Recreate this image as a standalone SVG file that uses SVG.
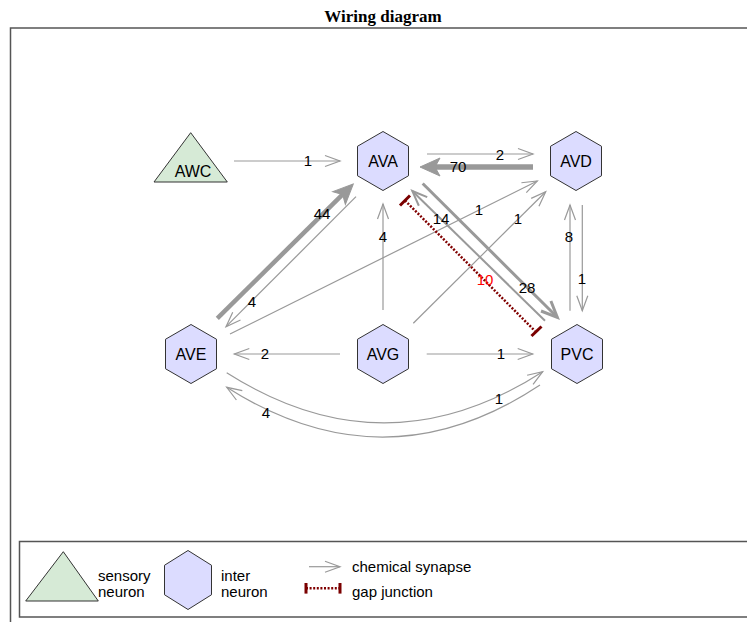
<svg xmlns="http://www.w3.org/2000/svg" width="747" height="622" viewBox="0 0 747 622">
  <style>
    .title { font-family: "Liberation Serif", "Times New Roman", serif; font-size: 17px; font-weight: bold; fill: #000; }
    .frame { fill: none; stroke: #555; stroke-width: 1.5; }
    .inter { fill: #dcdcff; stroke: #333; stroke-width: 1; }
    .sensory { fill: #d6ead6; stroke: #333; stroke-width: 1; }
    .nlabel { font-family: "Liberation Sans", Arial, sans-serif; font-size: 16px; fill: #000; text-anchor: middle; }
    .elabel { font-family: "Liberation Sans", Arial, sans-serif; font-size: 15px; fill: #000; text-anchor: middle; }
    .glabel { font-family: "Liberation Sans", Arial, sans-serif; font-size: 15px; fill: #ff0000; text-anchor: middle; }
    .legtext { font-family: "Liberation Sans", Arial, sans-serif; font-size: 15px; fill: #000; }
    .chem { fill: none; stroke: #999; stroke-width: 1.2; marker-end: url(#arrow); }
    .chem2 { fill: none; stroke: #999; stroke-width: 2; marker-end: url(#arrow2); }
    .chem3 { fill: none; stroke: #999; stroke-width: 3; marker-end: url(#arrow3); }
    .chemH { fill: none; stroke: #999; marker-end: url(#arrowH); }
    .gap { fill: none; stroke: #800000; stroke-width: 2.5; stroke-dasharray: 2 1.6; }
    .gapbar { fill: none; stroke: #7a0000; stroke-width: 3; }
  </style>
  <defs>
    <marker id="arrow" markerUnits="userSpaceOnUse" orient="auto" refX="0" refY="0" markerWidth="1" markerHeight="1" style="overflow:visible">
      <path d="M-15,-5.5 L0,0 L-15,5.5" fill="none" stroke="#999" stroke-width="1.2"/>
    </marker>
    <marker id="arrow2" markerUnits="userSpaceOnUse" orient="auto" refX="0" refY="0" markerWidth="1" markerHeight="1" style="overflow:visible">
      <path d="M-15,-6 L0,0 L-15,6" fill="none" stroke="#999" stroke-width="2"/>
    </marker>
    <marker id="arrow3" markerUnits="userSpaceOnUse" orient="auto" refX="0" refY="0" markerWidth="1" markerHeight="1" style="overflow:visible">
      <path d="M-16,-7 L0,0 L-16,7" fill="none" stroke="#999" stroke-width="3"/>
    </marker>
    <!-- heavy arrowhead: tip sits 6 units past the end of the shaft -->
    <marker id="arrowH" markerUnits="userSpaceOnUse" orient="auto" refX="0" refY="0" markerWidth="1" markerHeight="1" style="overflow:visible">
      <path d="M6,0 L-14,-9 L-9,0 L-14,9 Z" fill="#999" stroke="#999" stroke-width="1"/>
    </marker>
  </defs>

  <rect width="747" height="622" fill="#fff"/>
  <text class="title" x="383" y="22" text-anchor="middle">Wiring diagram</text>
  <rect class="frame" x="10.5" y="28" width="800" height="700"/>

  <g id="connectors">
    <path class="chem" d="M234,161 L340,161"/>
    <path class="chem" d="M427,154 L533,154"/>
    <path class="chemH" stroke-width="5.5" d="M533,167 L426,167"/>
    <path class="chemH" stroke-width="4.5" d="M217.3,318.3 L349,188.2"/>
    <path class="chem" d="M356,196.7 L226,326.7"/>
    <path class="chem" d="M230,334 L537.3,181"/>
    <path class="chem" d="M413.3,323.3 L545.7,191.7"/>
    <path class="chem" d="M383,310 L383,204"/>
    <path class="chem2" d="M545,320.7 L412.3,191"/>
    <path class="chem3" d="M422.7,183.5 L557.3,317.3"/>
    <path class="chem" d="M582.3,205 L582.3,310.7"/>
    <path class="chem" stroke-width="1.5" d="M570,310.7 L570,205"/>
    <path class="chem" d="M340,354 L234.3,354"/>
    <path class="chem" d="M426.7,354 L532.7,354"/>
    <path class="chem" d="M226.7,372.7 Q385,473.5 542.7,371.7"/>
    <path class="chem" d="M540,385 Q385,488 226.7,387.3"/>
    <g id="gap-AVA-PVC">
      <path class="gap" d="M405,200.5 L535,331"/>
      <path class="gapbar" d="M400,205.5 L410,195.5"/>
      <path class="gapbar" d="M531.5,336 L541.5,326.5"/>
    </g>
    <text class="elabel" x="308" y="166">1</text>
    <text class="elabel" x="500" y="160">2</text>
    <text class="elabel" x="458" y="172">70</text>
    <text class="elabel" x="322" y="219">44</text>
    <text class="elabel" x="252" y="307">4</text>
    <text class="elabel" x="479" y="215">1</text>
    <text class="elabel" x="518" y="224">1</text>
    <text class="elabel" x="383" y="242">4</text>
    <text class="elabel" x="441" y="224">14</text>
    <text class="elabel" x="527" y="293">28</text>
    <text class="glabel" x="485" y="285">10</text>
    <text class="elabel" x="582" y="284">1</text>
    <text class="elabel" x="569" y="242">8</text>
    <text class="elabel" x="265" y="359">2</text>
    <text class="elabel" x="501" y="359">1</text>
    <text class="elabel" x="499" y="404">1</text>
    <text class="elabel" x="266" y="418">4</text>
  </g>

  <g id="AWC">
    <polygon class="sensory" points="190.7,132.7 227.3,182 154,182"/>
    <text class="nlabel" x="193" y="177">AWC</text>
  </g>
  <g id="AVA">
    <polygon class="inter" points="383,131.5 408.5,146.25 408.5,175.75 383,190.5 357.5,175.75 357.5,146.25"/>
    <text class="nlabel" x="383" y="167">AVA</text>
  </g>
  <g id="AVD">
    <polygon class="inter" points="576,131.5 601.5,146.25 601.5,175.75 576,190.5 550.5,175.75 550.5,146.25"/>
    <text class="nlabel" x="576" y="167">AVD</text>
  </g>
  <g id="AVE">
    <polygon class="inter" points="191,324.5 216.5,339.25 216.5,368.75 191,383.5 165.5,368.75 165.5,339.25"/>
    <text class="nlabel" x="191" y="360">AVE</text>
  </g>
  <g id="AVG">
    <polygon class="inter" points="383,324.5 408.5,339.25 408.5,368.75 383,383.5 357.5,368.75 357.5,339.25"/>
    <text class="nlabel" x="383" y="360">AVG</text>
  </g>
  <g id="PVC">
    <polygon class="inter" points="577,324.5 602.5,339.25 602.5,368.75 577,383.5 551.5,368.75 551.5,339.25"/>
    <text class="nlabel" x="577" y="360">PVC</text>
  </g>

  <g id="legend">
    <rect class="frame" x="19.5" y="541.5" width="800" height="75.5"/>
    <polygon class="sensory" points="63.3,551.7 98.3,601 25.7,601"/>
    <text class="legtext" x="98" y="581">sensory</text>
    <text class="legtext" x="98" y="597">neuron</text>
    <polygon class="inter" points="188,550.5 211.5,565.25 211.5,594.75 188,609.5 164.5,594.75 164.5,565.25"/>
    <text class="legtext" x="221" y="581">inter</text>
    <text class="legtext" x="221" y="597">neuron</text>
    <path class="chem" d="M309,566.7 L340,566.7"/>
    <text class="legtext" x="352" y="572">chemical synapse</text>
    <path class="gap" d="M306,588.3 L340,588.3"/>
    <path class="gapbar" stroke-width="2.5" d="M306,583 L306,593.6"/>
    <path class="gapbar" stroke-width="2.5" d="M340,583 L340,593.6"/>
    <text class="legtext" x="352" y="597">gap junction</text>
  </g>
</svg>
